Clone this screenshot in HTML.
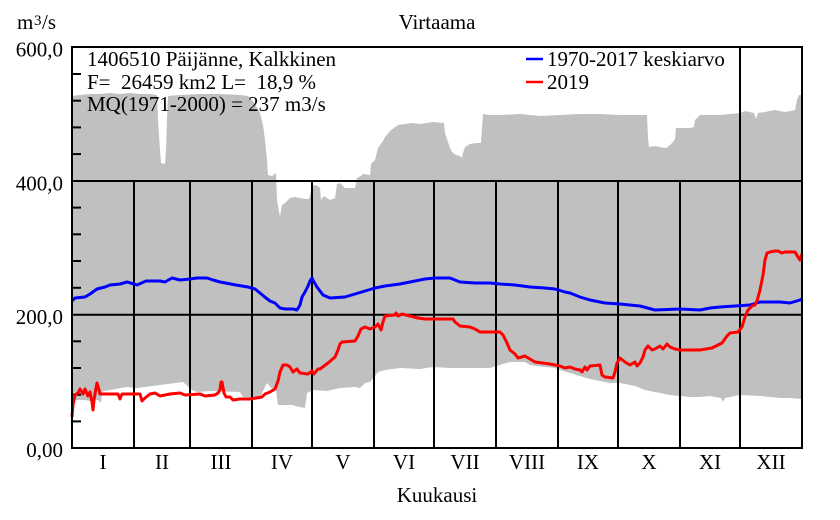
<!DOCTYPE html>
<html>
<head>
<meta charset="utf-8">
<style>
html,body{margin:0;padding:0;background:#fff;}
svg{display:block;}
text{font-family:"Liberation Serif","Times New Roman",serif;font-size:21px;fill:#000;}
</style>
</head>
<body>
<svg width="840" height="520" viewBox="0 0 840 520" xmlns="http://www.w3.org/2000/svg">
<!-- gray envelope -->
<polygon fill="#c0c0c0" points="
72,96 80,95 90,94 100,94 110,93 120,94 130,93 140,94 150,94 157,95 158,120 160,150 161,163 165,164 166,150 167,120 168,96 180,95 200,94 220,94 240,95 248,96 252,100 256,106 260,113 263,125 265,140 267,160 268,175 272,176 276,173 277,200 279,212 280,216 282,205 285,203 290,198 295,197 300,198 305,199 309,199 312,188 314,185 318,186 320,188 321,200 324,196 330,200 335,198 337,184 340,183 345,188 355,188 357,178 361,176 363,174 370,175 371,164 375,160 378,148 383,141 385,137 390,131 394,128 398,125 405,124 412,123 420,124 433,122 444,123 445,133 450,148 452,152 456,155 460,156 462,158 463,153 465,147 470,144 477,143 481,143 482,128 483,114 490,115 500,115 520,114 540,116 560,115 580,114 600,114 620,115 640,115 647,115 648,138 649,147 655,146 660,147 665,148 668,147 672,143 675,139 676,128 690,128 694,127 695,120 700,115 720,115 740,113 745,111 754,113 756,119 758,113 765,112 775,110 785,112 795,110 797,100 799,95 802,95
802,399 790,398 780,398 760,396 740,395 725,398 723,402 721,398 710,396 700,397 690,397 680,396 670,395 660,393 645,390 635,386 620,383 610,383 600,381 590,379 580,376 570,373 560,370 555,368 545,367 530,365 525,362 510,362 496,366 490,368 470,368 450,368 433,367 420,369 400,368 385,370 378,372 375,376 370,382 365,383 360,388 355,387 340,388 327,391 313,390 307,393 305,408 295,406 293,405 278,405 276,390 273,390 267,383 262,393 260,398 243,397 240,392 210,391 197,392 192,390 183,382 160,385 137,388 127,387 104,391 102,392 101,403 98,400 90,401 85,400 75,400 72,400"/>

<!-- grid lines -->
<g stroke="#000" stroke-width="2" fill="none">
<line x1="72" y1="181" x2="802" y2="181"/>
<line x1="72" y1="314.7" x2="802" y2="314.7"/>
<line x1="134" y1="181" x2="134" y2="448"/>
<line x1="190" y1="181" x2="190" y2="448"/>
<line x1="252" y1="181" x2="252" y2="448"/>
<line x1="312" y1="181" x2="312" y2="448"/>
<line x1="374" y1="181" x2="374" y2="448"/>
<line x1="434" y1="181" x2="434" y2="448"/>
<line x1="496" y1="181" x2="496" y2="448"/>
<line x1="558" y1="181" x2="558" y2="448"/>
<line x1="618" y1="181" x2="618" y2="448"/>
<line x1="680" y1="181" x2="680" y2="448"/>
<line x1="740" y1="47" x2="740" y2="448"/>
<!-- ticks -->
<line x1="72" y1="74" x2="81" y2="74"/>
<line x1="72" y1="100.7" x2="81" y2="100.7"/>
<line x1="72" y1="127.4" x2="81" y2="127.4"/>
<line x1="72" y1="154.1" x2="81" y2="154.1"/>
<line x1="72" y1="207.6" x2="81" y2="207.6"/>
<line x1="72" y1="234.3" x2="81" y2="234.3"/>
<line x1="72" y1="261" x2="81" y2="261"/>
<line x1="72" y1="287.8" x2="81" y2="287.8"/>
<line x1="72" y1="341.3" x2="81" y2="341.3"/>
<line x1="72" y1="368" x2="81" y2="368"/>
<line x1="72" y1="394.7" x2="81" y2="394.7"/>
<line x1="72" y1="421.4" x2="81" y2="421.4"/>
</g>

<!-- mean (blue) -->
<polyline fill="none" stroke="#0000ff" stroke-width="3" stroke-linejoin="round" points="
72,301 75,298 85,297 90,294 97,289 105,287 110,285 120,284 127,282 134,284 137,285 146,281 160,281 165,282 172,278 180,280 190,279 197,278 207,278 213,280 220,282 236,285 248,287 255,289 260,293 266,298 270,301 275,303 280,308 285,309 293,309 297,310 300,305 302,297 305,292 308,286 310,281 312,278 314,282 317,287 320,291 323,295 330,298 345,297 355,294 365,291 375,288 385,286 400,284 415,281 425,279 435,278 450,278 455,280 460,282 475,283 490,283 500,284 515,285 530,287 545,288 555,289 565,292 570,293 580,297 590,300 605,303 620,304 640,306 655,310 680,309 700,310 710,308 720,307 735,306 750,305 760,302 780,302 790,303 800,300 802,299"/>

<!-- 2019 (red) -->
<polyline fill="none" stroke="#ff0000" stroke-width="3" stroke-linejoin="round" points="
72,417 73,405 75,395 78,393 80,389 83,394 85,389 88,396 90,392 92,402 93,410 94,400 96,388 97,383 99,390 100,394 118,394 120,399 122,394 140,394 142,401 145,398 150,394 155,393 160,396 170,394 180,393 185,395 200,394 205,396 215,395 218,393 220,390 221,382 222,382 224,393 226,397 230,397 233,400 240,399 250,399 262,397 265,394 270,392 275,389 278,381 280,372 283,365 287,365 290,367 293,372 297,369 300,373 308,374 312,371 314,374 318,369 320,369 328,363 335,357 338,350 340,344 342,342 355,341 358,336 361,329 365,327 370,329 375,327 378,324 381,330 383,322 385,316 395,315 396,313 398,316 402,314 410,316 418,318 425,319 453,319 455,322 460,326 470,327 475,329 480,332 500,332 503,335 507,343 510,350 515,354 518,358 525,356 530,359 535,362 550,364 560,366 565,368 570,367 575,369 580,370 582,372 585,367 587,370 590,366 600,365 602,375 605,377 613,378 615,372 617,363 620,358 625,362 630,365 635,362 637,366 640,363 643,357 645,350 648,346 652,350 655,349 660,346 663,349 667,344 670,347 675,349 680,350 700,350 712,348 722,343 727,336 730,333 738,332 742,327 745,317 748,310 752,306 755,305 757,301 760,290 763,275 765,260 767,253 770,252 775,251 778,251 782,253 785,252 795,252 798,257 800,260 802,254"/>

<!-- plot border -->
<rect x="72" y="47" width="730" height="401" fill="none" stroke="#000" stroke-width="2"/>

<!-- legend -->
<line x1="526" y1="59" x2="543" y2="59" stroke="#0000ff" stroke-width="2.5"/>
<line x1="526" y1="82" x2="543" y2="82" stroke="#ff0000" stroke-width="2.5"/>
<text x="547" y="66">1970-2017 keskiarvo</text>
<text x="547" y="89">2019</text>

<!-- info text -->
<text x="87" y="66">1406510 Päijänne, Kalkkinen</text>
<text x="87" y="89" xml:space="preserve">F=  26459 km2 L=  18,9 %</text>
<text x="87" y="111">MQ(1971-2000) = 237 m3/s</text>

<!-- titles -->
<text x="437" y="29" text-anchor="middle">Virtaama</text>
<text x="17" y="29">m</text>
<text x="34" y="25" style="font-size:15px">3</text>
<text x="42" y="29">/s</text>
<text x="437" y="502" text-anchor="middle">Kuukausi</text>

<!-- y labels -->
<text x="63" y="56.5" text-anchor="end">600,0</text>
<text x="63" y="190.5" text-anchor="end">400,0</text>
<text x="63" y="324" text-anchor="end">200,0</text>
<text x="63" y="457" text-anchor="end">0,00</text>

<!-- month labels -->
<g text-anchor="middle">
<text x="103" y="469">I</text>
<text x="162" y="469">II</text>
<text x="221" y="469">III</text>
<text x="282" y="469">IV</text>
<text x="343" y="469">V</text>
<text x="404" y="469">VI</text>
<text x="465" y="469">VII</text>
<text x="527" y="469">VIII</text>
<text x="588" y="469">IX</text>
<text x="649" y="469">X</text>
<text x="710" y="469">XI</text>
<text x="771" y="469">XII</text>
</g>
</svg>
</body>
</html>
